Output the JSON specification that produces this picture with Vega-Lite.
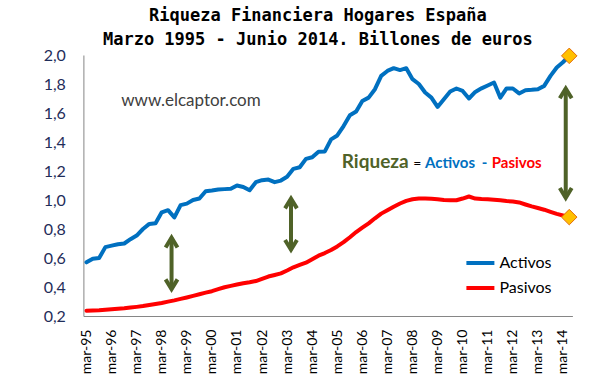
{
  "$schema": "https://vega.github.io/schema/vega-lite/v6.json",
  "width": 489,
  "height": 261,
  "autosize": {"type": "none"},
  "padding": {"left": 83.4, "top": 55, "right": 27.6, "bottom": 60},
  "background": "white",
  "config": {"view": {"stroke": null}, "font": "Lato", "axis": {"labelOverlap": false, "labelSeparation": 0}},
  "title": {
    "text": ["Riqueza Financiera Hogares España", "Marzo 1995 - Junio 2014. Billones de euros"],
    "font": "DejaVu Sans Mono",
    "fontSize": 17,
    "fontWeight": "bold",
    "color": "black",
    "anchor": "middle",
    "frame": "group",
    "dx": -10,
    "offset": -3,
    "lineHeight": 24
  },
  "datasets": {
    "serie": [
      {"f": "1995-03-01", "Activos": 0.570, "Pasivos": 0.236},
      {"f": "1995-06-01", "Activos": 0.595, "Pasivos": 0.238},
      {"f": "1995-09-01", "Activos": 0.600, "Pasivos": 0.240},
      {"f": "1995-12-01", "Activos": 0.675, "Pasivos": 0.243},
      {"f": "1996-03-01", "Activos": 0.685, "Pasivos": 0.246},
      {"f": "1996-06-01", "Activos": 0.695, "Pasivos": 0.250},
      {"f": "1996-09-01", "Activos": 0.700, "Pasivos": 0.253},
      {"f": "1996-12-01", "Activos": 0.730, "Pasivos": 0.258},
      {"f": "1997-03-01", "Activos": 0.755, "Pasivos": 0.263},
      {"f": "1997-06-01", "Activos": 0.800, "Pasivos": 0.269},
      {"f": "1997-09-01", "Activos": 0.835, "Pasivos": 0.276},
      {"f": "1997-12-01", "Activos": 0.840, "Pasivos": 0.283},
      {"f": "1998-03-01", "Activos": 0.915, "Pasivos": 0.290},
      {"f": "1998-06-01", "Activos": 0.930, "Pasivos": 0.299},
      {"f": "1998-09-01", "Activos": 0.880, "Pasivos": 0.308},
      {"f": "1998-12-01", "Activos": 0.965, "Pasivos": 0.318},
      {"f": "1999-03-01", "Activos": 0.975, "Pasivos": 0.328},
      {"f": "1999-06-01", "Activos": 1.000, "Pasivos": 0.339},
      {"f": "1999-09-01", "Activos": 1.010, "Pasivos": 0.350},
      {"f": "1999-12-01", "Activos": 1.060, "Pasivos": 0.361},
      {"f": "2000-03-01", "Activos": 1.065, "Pasivos": 0.371},
      {"f": "2000-06-01", "Activos": 1.072, "Pasivos": 0.385},
      {"f": "2000-09-01", "Activos": 1.075, "Pasivos": 0.398},
      {"f": "2000-12-01", "Activos": 1.077, "Pasivos": 0.408},
      {"f": "2001-03-01", "Activos": 1.100, "Pasivos": 0.417},
      {"f": "2001-06-01", "Activos": 1.090, "Pasivos": 0.426},
      {"f": "2001-09-01", "Activos": 1.067, "Pasivos": 0.433},
      {"f": "2001-12-01", "Activos": 1.123, "Pasivos": 0.441},
      {"f": "2002-03-01", "Activos": 1.137, "Pasivos": 0.456},
      {"f": "2002-06-01", "Activos": 1.141, "Pasivos": 0.472},
      {"f": "2002-09-01", "Activos": 1.123, "Pasivos": 0.483},
      {"f": "2002-12-01", "Activos": 1.134, "Pasivos": 0.494},
      {"f": "2003-03-01", "Activos": 1.160, "Pasivos": 0.514},
      {"f": "2003-06-01", "Activos": 1.215, "Pasivos": 0.536},
      {"f": "2003-09-01", "Activos": 1.226, "Pasivos": 0.552},
      {"f": "2003-12-01", "Activos": 1.284, "Pasivos": 0.568},
      {"f": "2004-03-01", "Activos": 1.295, "Pasivos": 0.592},
      {"f": "2004-06-01", "Activos": 1.333, "Pasivos": 0.616},
      {"f": "2004-09-01", "Activos": 1.335, "Pasivos": 0.634},
      {"f": "2004-12-01", "Activos": 1.418, "Pasivos": 0.655},
      {"f": "2005-03-01", "Activos": 1.445, "Pasivos": 0.680},
      {"f": "2005-06-01", "Activos": 1.510, "Pasivos": 0.709},
      {"f": "2005-09-01", "Activos": 1.584, "Pasivos": 0.743},
      {"f": "2005-12-01", "Activos": 1.610, "Pasivos": 0.779},
      {"f": "2006-03-01", "Activos": 1.683, "Pasivos": 0.809},
      {"f": "2006-06-01", "Activos": 1.706, "Pasivos": 0.839},
      {"f": "2006-09-01", "Activos": 1.764, "Pasivos": 0.874},
      {"f": "2006-12-01", "Activos": 1.856, "Pasivos": 0.906},
      {"f": "2007-03-01", "Activos": 1.890, "Pasivos": 0.930},
      {"f": "2007-06-01", "Activos": 1.909, "Pasivos": 0.954},
      {"f": "2007-09-01", "Activos": 1.896, "Pasivos": 0.976},
      {"f": "2007-12-01", "Activos": 1.909, "Pasivos": 0.994},
      {"f": "2008-03-01", "Activos": 1.833, "Pasivos": 1.005},
      {"f": "2008-06-01", "Activos": 1.800, "Pasivos": 1.010},
      {"f": "2008-09-01", "Activos": 1.741, "Pasivos": 1.010},
      {"f": "2008-12-01", "Activos": 1.706, "Pasivos": 1.008},
      {"f": "2009-03-01", "Activos": 1.642, "Pasivos": 1.005},
      {"f": "2009-06-01", "Activos": 1.695, "Pasivos": 1.000},
      {"f": "2009-09-01", "Activos": 1.748, "Pasivos": 0.999},
      {"f": "2009-12-01", "Activos": 1.769, "Pasivos": 0.998},
      {"f": "2010-03-01", "Activos": 1.752, "Pasivos": 1.010},
      {"f": "2010-06-01", "Activos": 1.700, "Pasivos": 1.024},
      {"f": "2010-09-01", "Activos": 1.745, "Pasivos": 1.010},
      {"f": "2010-12-01", "Activos": 1.770, "Pasivos": 1.007},
      {"f": "2011-03-01", "Activos": 1.790, "Pasivos": 1.005},
      {"f": "2011-06-01", "Activos": 1.810, "Pasivos": 1.002},
      {"f": "2011-09-01", "Activos": 1.706, "Pasivos": 0.998},
      {"f": "2011-12-01", "Activos": 1.769, "Pasivos": 0.993},
      {"f": "2012-03-01", "Activos": 1.769, "Pasivos": 0.989},
      {"f": "2012-06-01", "Activos": 1.735, "Pasivos": 0.983},
      {"f": "2012-09-01", "Activos": 1.757, "Pasivos": 0.969},
      {"f": "2012-12-01", "Activos": 1.760, "Pasivos": 0.956},
      {"f": "2013-03-01", "Activos": 1.764, "Pasivos": 0.945},
      {"f": "2013-06-01", "Activos": 1.787, "Pasivos": 0.933},
      {"f": "2013-09-01", "Activos": 1.856, "Pasivos": 0.918},
      {"f": "2013-12-01", "Activos": 1.914, "Pasivos": 0.904},
      {"f": "2014-03-01", "Activos": 1.950, "Pasivos": 0.893},
      {"f": "2014-06-01", "Activos": 1.994, "Pasivos": 0.882}
    ],
    "flechas": [
      {"f": "1998-07-22", "y1": 0.385, "y2": 0.740},
      {"f": "2003-04-27", "y1": 0.657, "y2": 1.010},
      {"f": "2014-04-11", "y1": 1.015, "y2": 1.769}
    ]
  },
  "layer": [
    {
      "data": {"name": "serie", "format": {"parse": {"f": "date"}}},
      "transform": [{"fold": ["Activos", "Pasivos"], "as": ["serie", "v"]}],
      "mark": {"type": "line", "strokeWidth": 4, "strokeJoin": "round", "strokeCap": "round"},
      "encoding": {
        "x": {
          "field": "f",
          "type": "temporal",
          "scale": {
            "type": "utc",
            "domain": [
              {"year": 1995, "month": 1, "date": 15, "utc": true},
              {"year": 2014, "month": 7, "date": 17, "utc": true}
            ]
          },
          "axis": {
            "values": [
              {"year": 1995, "month": 3, "date": 1, "utc": true},
              {"year": 1996, "month": 3, "date": 1, "utc": true},
              {"year": 1997, "month": 3, "date": 1, "utc": true},
              {"year": 1998, "month": 3, "date": 1, "utc": true},
              {"year": 1999, "month": 3, "date": 1, "utc": true},
              {"year": 2000, "month": 3, "date": 1, "utc": true},
              {"year": 2001, "month": 3, "date": 1, "utc": true},
              {"year": 2002, "month": 3, "date": 1, "utc": true},
              {"year": 2003, "month": 3, "date": 1, "utc": true},
              {"year": 2004, "month": 3, "date": 1, "utc": true},
              {"year": 2005, "month": 3, "date": 1, "utc": true},
              {"year": 2006, "month": 3, "date": 1, "utc": true},
              {"year": 2007, "month": 3, "date": 1, "utc": true},
              {"year": 2008, "month": 3, "date": 1, "utc": true},
              {"year": 2009, "month": 3, "date": 1, "utc": true},
              {"year": 2010, "month": 3, "date": 1, "utc": true},
              {"year": 2011, "month": 3, "date": 1, "utc": true},
              {"year": 2012, "month": 3, "date": 1, "utc": true},
              {"year": 2013, "month": 3, "date": 1, "utc": true},
              {"year": 2014, "month": 3, "date": 1, "utc": true}
            ],
            "tickCount": 100,
            "labelExpr": "lower(utcFormat(datum.value, '%b-%y'))",
            "labelAngle": -90,
            "labelFlush": false,
            "labelOverlap": false,
            "labelBound": false,
            "ticks": false,
            "tickSize": 0,
            "grid": false,
            "labelPadding": 13,
            "labelFont": "Lato",
            "labelFontSize": 14,
            "labelColor": "black",
            "domainColor": "#868686",
            "domainWidth": 1,
            "title": null
          }
        },
        "y": {
          "field": "v",
          "type": "quantitative",
          "scale": {"domain": [0.2, 2.0], "nice": false, "zero": false},
          "axis": {
            "values": [0.2, 0.4, 0.6, 0.8, 1.0, 1.2, 1.4, 1.6, 1.8, 2.0],
            "tickCount": 100,
            "labelExpr": "replace(format(datum.value, '.1f'), '.', ',')",
            "labelOverlap": false,
            "labelFlush": false,
            "labelBound": false,
            "grid": false,
            "ticks": false,
            "tickSize": 0,
            "labelPadding": 18,
            "labelFont": "Lato",
            "labelFontSize": 16,
            "labelColor": "#1F2D5A",
            "domainColor": "#868686",
            "domainWidth": 1,
            "title": null
          }
        },
        "color": {
          "field": "serie",
          "type": "nominal",
          "scale": {"domain": ["Activos", "Pasivos"], "range": ["#0070C0", "#FF0000"]},
          "legend": {
            "title": null,
            "orient": "bottom-right",
            "offset": 20,
            "padding": 0,
            "symbolType": "stroke",
            "symbolSize": 784,
            "symbolStrokeWidth": 4,
            "labelFont": "Lato",
            "labelFontSize": 16,
            "labelColor": "black",
            "labelOffset": 3,
            "rowPadding": 1
          }
        }
      }
    },
    {
      "data": {"name": "serie", "format": {"parse": {"f": "date"}}},
      "transform": [
        {"fold": ["Activos", "Pasivos"], "as": ["serie", "v"]},
        {"filter": "utcyear(datum.f) == 2014 && utcmonth(datum.f) == 5"}
      ],
      "mark": {"type": "point", "shape": "diamond", "filled": true, "fill": "#FFC000", "stroke": "#E46C0A", "strokeWidth": 1, "size": 240, "opacity": 1},
      "encoding": {
        "x": {"field": "f", "type": "temporal"},
        "y": {"field": "v", "type": "quantitative"}
      }
    },
    {
      "data": {"name": "flechas", "format": {"parse": {"f": "date"}}},
      "mark": {"type": "rule", "color": "#4F6228", "strokeWidth": 4},
      "encoding": {
        "x": {"field": "f", "type": "temporal"},
        "y": {"field": "y1", "type": "quantitative"},
        "y2": {"field": "y2"}
      }
    },
    {
      "data": {"name": "flechas", "format": {"parse": {"f": "date"}}},
      "mark": {"type": "point", "shape": "M -0.85 1.4 L 0 0 L 0.85 1.4", "filled": false, "stroke": "#4F6228", "strokeWidth": 4, "size": 196, "opacity": 1},
      "encoding": {
        "x": {"field": "f", "type": "temporal"},
        "y": {"field": "y2", "type": "quantitative"}
      }
    },
    {
      "data": {"name": "flechas", "format": {"parse": {"f": "date"}}},
      "mark": {"type": "point", "shape": "M -0.85 -1.4 L 0 0 L 0.85 -1.4", "filled": false, "stroke": "#4F6228", "strokeWidth": 4, "size": 196, "opacity": 1},
      "encoding": {
        "x": {"field": "f", "type": "temporal"},
        "y": {"field": "y1", "type": "quantitative"}
      }
    },
    {
      "data": {"values": [{"f": "1999-05-01", "v": 1.68, "t": "www.elcaptor.com"}], "format": {"parse": {"f": "date"}}},
      "mark": {"type": "text", "font": "Lato", "fontSize": 17, "color": "#404040", "align": "center", "baseline": "middle"},
      "encoding": {
        "x": {"field": "f", "type": "temporal"},
        "y": {"field": "v", "type": "quantitative"},
        "text": {"field": "t"}
      }
    },
    {
      "data": {"values": [{"f": "2005-05-05", "v": 1.219, "t": "Riqueza"}], "format": {"parse": {"f": "date"}}},
      "mark": {"type": "text", "font": "Lato", "fontSize": 19, "fontWeight": "bold", "color": "#4F6228", "align": "left", "baseline": "alphabetic"},
      "encoding": {
        "x": {"field": "f", "type": "temporal"},
        "y": {"field": "v", "type": "quantitative"},
        "text": {"field": "t"}
      }
    },
    {
      "data": {"values": [{"f": "2008-03-12", "v": 1.219, "t": "="}], "format": {"parse": {"f": "date"}}},
      "mark": {"type": "text", "font": "Lato", "fontSize": 14, "color": "black", "align": "left", "baseline": "alphabetic"},
      "encoding": {
        "x": {"field": "f", "type": "temporal"},
        "y": {"field": "v", "type": "quantitative"},
        "text": {"field": "t"}
      }
    },
    {
      "data": {"values": [{"f": "2008-08-30", "v": 1.219, "t": "Activos"}, {"f": "2010-12-04", "v": 1.219, "t": "-"}], "format": {"parse": {"f": "date"}}},
      "mark": {"type": "text", "font": "Lato", "fontSize": 15, "fontWeight": "bold", "color": "#0070C0", "align": "left", "baseline": "alphabetic"},
      "encoding": {
        "x": {"field": "f", "type": "temporal"},
        "y": {"field": "v", "type": "quantitative"},
        "text": {"field": "t"}
      }
    },
    {
      "data": {"values": [{"f": "2011-04-29", "v": 1.219, "t": "Pasivos"}], "format": {"parse": {"f": "date"}}},
      "mark": {"type": "text", "font": "Lato", "fontSize": 15, "fontWeight": "bold", "color": "#FF0000", "align": "left", "baseline": "alphabetic"},
      "encoding": {
        "x": {"field": "f", "type": "temporal"},
        "y": {"field": "v", "type": "quantitative"},
        "text": {"field": "t"}
      }
    }
  ]
}
